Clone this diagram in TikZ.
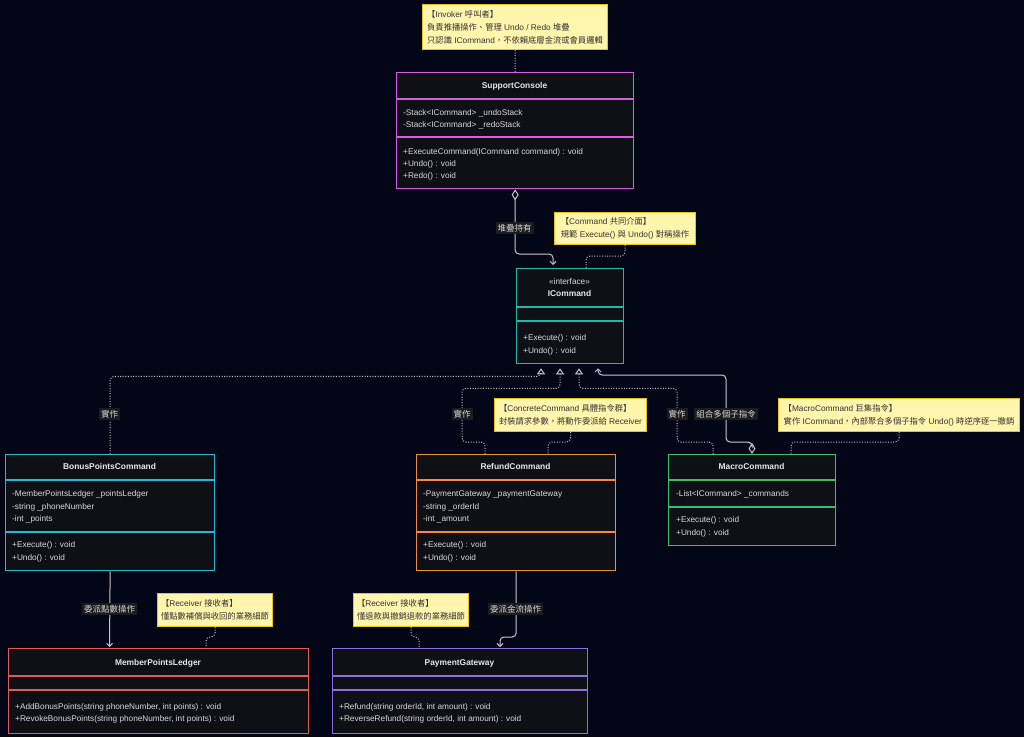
\documentclass[tikz,border=0pt]{standalone}
\usepackage{fontspec}
\setmainfont{Liberation Sans}
\newfontfamily\cjk{Noto Sans CJK TC}
\usetikzlibrary{arrows.meta,calc}
\newcommand\zh[1]{{\cjk #1}}
\definecolor{bgc}{HTML}{020617}
\definecolor{boxbg}{HTML}{0F1016}
\definecolor{boxtx}{HTML}{DADADA}
\definecolor{nametx}{HTML}{E8E8E8}
\definecolor{notebg}{HTML}{FFF5AD}
\definecolor{notebd}{HTML}{E6C21A}
\definecolor{notetx}{HTML}{333333}
\definecolor{edgec}{HTML}{C8C8C8}
\definecolor{labbg}{HTML}{1C1C1F}
\definecolor{labtx}{HTML}{D8D8D8}
\definecolor{cMag}{HTML}{D35FE0}
\definecolor{cTeal}{HTML}{2AB5A8}
\definecolor{cCyan}{HTML}{27B7D3}
\definecolor{cOrange}{HTML}{F28C38}
\definecolor{cGreen}{HTML}{3DBE6E}
\definecolor{cRed}{HTML}{E05A5A}
\definecolor{cPurple}{HTML}{8B6FDB}
\begin{document}
\begin{tikzpicture}[x=1pt,y=-1pt,
  cls/.style={draw=#1, fill=boxbg, line width=1.3pt, anchor=north west, inner sep=0pt},
  divl/.style={draw=#1, line width=1.3pt},
  mem/.style={anchor=mid west, inner sep=0pt, text=boxtx, font=\fontsize{8.25}{10}\selectfont},
  cname/.style={anchor=mid, inner sep=0pt, text=nametx, font=\bfseries\fontsize{8.4}{10}\selectfont},
  stereo/.style={anchor=mid, inner sep=0pt, text=boxtx, font=\fontsize{8.25}{10}\selectfont},
  note/.style={draw=notebd, fill=notebg, line width=1pt, text=notetx, font=\fontsize{8.3}{13}\selectfont, align=left, anchor=north west, inner xsep=0pt, inner ysep=0pt},
  conn/.style={draw=edgec, line width=1pt, rounded corners=4pt},
  dots/.style={conn, dash pattern=on 1pt off 1.6pt},
  lab/.style={fill=labbg, text=labtx, font=\cjk\fontsize{8.5}{10}\selectfont, inner xsep=2pt, inner ysep=2pt},
  realtip/.style={-{Triangle[open, length=6pt, width=8pt, line width=1pt]}},
  deptip/.style={-{Straight Barb[length=3pt, width=6pt, line width=1pt]}},
]
\fill[bgc] (0,0) rectangle (1024,737);
\useasboundingbox (0,0) rectangle (1024,737);

% ---------- SupportConsole ----------
\node[cls=cMag, minimum width=237pt, minimum height=116pt] (sc) at (396,72) {};
\draw[divl=cMag] (396,99) -- (633,99);
\draw[divl=cMag] (396,137) -- (633,137);
\node[cname] (scn) at (514.5,86) {SupportConsole};
\node[mem] (sca1) at (403,113) {-Stack<ICommand> \_undoStack};
\node[mem] (sca2) at (403,125) {-Stack<ICommand> \_redoStack};
\node[mem] (scm1) at (403,152) {+ExecuteCommand(ICommand command) : void};
\node[mem] (scm2) at (403,164) {+Undo() : void};
\node[mem] (scm3) at (403,176) {+Redo() : void};

% ---------- ICommand ----------
\node[cls=cTeal, minimum width=107pt, minimum height=95pt] (ic) at (516,268) {};
\draw[divl=cTeal] (516,307) -- (623,307);
\draw[divl=cTeal] (516,321) -- (623,321);
\node[stereo] (ics) at (569.5,282) {«interface»};
\node[cname] (icn) at (569.5,294) {ICommand};
\node[mem] (icm1) at (523,338) {+Execute() : void};
\node[mem] (icm2) at (523,351) {+Undo() : void};

% ---------- BonusPointsCommand ----------
\node[cls=cCyan, minimum width=209pt, minimum height=116pt] (bpc) at (5,454) {};
\draw[divl=cCyan] (5,480) -- (214,480);
\draw[divl=cCyan] (5,532) -- (214,532);
\node[cname] (bpcn) at (109.5,467) {BonusPointsCommand};
\node[mem] (bpca1) at (12,494) {-MemberPointsLedger \_pointsLedger};
\node[mem] (bpca2) at (12,507) {-string \_phoneNumber};
\node[mem] (bpca3) at (12,519) {-int \_points};
\node[mem] (bpcm1) at (12,545) {+Execute() : void};
\node[mem] (bpcm2) at (12,558) {+Undo() : void};

% ---------- RefundCommand ----------
\node[cls=cOrange, minimum width=199pt, minimum height=116pt] (rc) at (416,454) {};
\draw[divl=cOrange] (416,480) -- (615,480);
\draw[divl=cOrange] (416,532) -- (615,532);
\node[cname] (rcn) at (515.5,467) {RefundCommand};
\node[mem] (rca1) at (423,494) {-PaymentGateway \_paymentGateway};
\node[mem] (rca2) at (423,507) {-string \_orderId};
\node[mem] (rca3) at (423,519) {-int \_amount};
\node[mem] (rcm1) at (423,545) {+Execute() : void};
\node[mem] (rcm2) at (423,558) {+Undo() : void};

% ---------- MacroCommand ----------
\node[cls=cGreen, minimum width=167pt, minimum height=91pt] (mc) at (668,454) {};
\draw[divl=cGreen] (668,480) -- (835,480);
\draw[divl=cGreen] (668,507) -- (835,507);
\node[cname] (mcn) at (751.5,467) {MacroCommand};
\node[mem] (mca1) at (676,494) {-List<ICommand> \_commands};
\node[mem] (mcm1) at (676,520) {+Execute() : void};
\node[mem] (mcm2) at (676,533) {+Undo() : void};

% ---------- MemberPointsLedger ----------
\node[cls=cRed, minimum width=300pt, minimum height=85pt] (mpl) at (8,648) {};
\draw[divl=cRed] (8,676) -- (308,676);
\draw[divl=cRed] (8,690) -- (308,690);
\node[cname] (mpln) at (158,663) {MemberPointsLedger};
\node[mem] (mplm1) at (15,707) {+AddBonusPoints(string phoneNumber, int points) : void};
\node[mem] (mplm2) at (15,719) {+RevokeBonusPoints(string phoneNumber, int points) : void};

% ---------- PaymentGateway ----------
\node[cls=cPurple, minimum width=255pt, minimum height=85pt] (pg) at (332,648) {};
\draw[divl=cPurple] (332,676) -- (587,676);
\draw[divl=cPurple] (332,690) -- (587,690);
\node[cname] (pgn) at (459.5,663) {PaymentGateway};
\node[mem] (pgm1) at (339,707) {+Refund(string orderId, int amount) : void};
\node[mem] (pgm2) at (339,719) {+ReverseRefund(string orderId, int amount) : void};

% ---------- Notes ----------
\node[note, minimum width=185pt, minimum height=45pt] (n1) at (422,4)
  {\zh{【}Invoker \zh{呼叫者】}\\\zh{負責推播操作、管理} Undo / Redo \zh{堆疊}\\\zh{只認識} ICommand\zh{，不依賴底層金流或會員邏輯}};
\node[note, minimum width=141pt, minimum height=32pt] (n2) at (554,212)
  {\zh{【}Command \zh{共同介面】}\\\zh{規範} Execute() \zh{與} Undo() \zh{對稱操作}};
\node[note, minimum width=152pt, minimum height=33pt] (n3) at (494,398)
  {\zh{【}ConcreteCommand \zh{具體指令群】}\\\zh{封裝請求參數，將動作委派給} Receiver};
\node[note, minimum width=241pt, minimum height=33pt] (n4) at (778,398)
  {\zh{【}MacroCommand \zh{巨集指令】}\\\zh{實作} ICommand\zh{，內部聚合多個子指令} Undo() \zh{時逆序逐一撤銷}};
\node[note, minimum width=115pt, minimum height=33pt] (n5) at (157,593)
  {\zh{【}Receiver \zh{接收者】}\\\zh{懂點數補償與收回的業務細節}};
\node[note, minimum width=115pt, minimum height=33pt] (n6) at (353,593)
  {\zh{【}Receiver \zh{接收者】}\\\zh{懂退款與撤銷退款的業務細節}};

% ---------- Note connectors ----------
\draw[dots] (n1.south) -- (sc.north);
\draw[dots] (n2.south) |- (586,256) -- ($(ic.north west)+(70,0)$);
\draw[dots] (n3.south) |- (548,442) -- ($(rc.north west)+(132,0)$);
\draw[dots] (n4.south) |- (791,442) -- ($(mc.north west)+(123,0)$);
\draw[dots] (n5.south) |- (206,637) -- ($(mpl.north west)+(198,0)$);
\draw[dots] (n6.south) |- (419,637) -- ($(pg.north west)+(87,0)$);

% ---------- Relations ----------
% aggregation SupportConsole -> ICommand
\draw[conn, {Diamond[open, length=11pt, width=7pt, line width=1pt]}-{Straight Barb[length=3pt, width=6pt, line width=1pt]}]
  (sc.south) |- (553,254) -- ($(ic.north west)+(37,-3)$);
\node[lab] (l1) at (514.5,228) {堆疊持有};

% realizations
\draw[dots, realtip] (bpc.north) |- ($(ic.south west)+(25,12)$) -- ($(ic.south west)+(25,4)$);
\node[lab] (l2) at (109.5,414) {實作};
\draw[dots, realtip] ($(rc.north west)+(69,0)$) |- (462,442) |- ($(ic.south west)+(44,24)$) -- ($(ic.south west)+(44,4)$);
\node[lab] (l3) at (462,414) {實作};
\draw[dots, realtip] ($(mc.north west)+(45,0)$) |- (677,442) |- ($(ic.south west)+(63,24)$) -- ($(ic.south west)+(63,4)$);
\node[lab] (l4) at (677,414) {實作};

% aggregation MacroCommand -> ICommand
\draw[conn, {Diamond[open, length=11pt, width=7pt, line width=1pt]}-{Straight Barb[length=3pt, width=6pt, line width=1pt]}]
  ($(mc.north west)+(84,0)$) |- (726,442) -- (726,375) -| ($(ic.south west)+(82,4)$);
\node[lab] (l5) at (726,414) {組合多個子指令};

% delegations
\draw[conn, deptip] (bpc.south) -- ($(mpl.north west)+(101.5,-1)$);
\node[lab] (l6) at (109.5,609) {委派點數操作};
\draw[conn, deptip] (rc.south) |- (500,637) -- ($(pg.north west)+(168,-1)$);
\node[lab] (l7) at (515.5,609) {委派金流操作};
\end{tikzpicture}
\end{document}
